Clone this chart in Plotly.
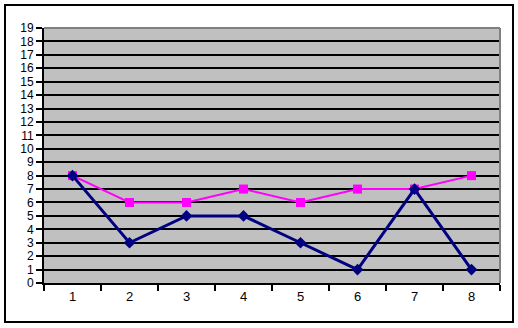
import plotly.graph_objects as go

categories = [1, 2, 3, 4, 5, 6, 7, 8]
series_a = [8, 3, 5, 5, 3, 1, 7, 1]
series_b = [8, 6, 6, 7, 6, 7, 7, 8]
y_ticks = list(range(0, 20))

W, H = 518, 328
L, R, T, B = 44, 18, 28, 45
pw, ph = W - L - R, H - T - B

def px_to_paper_x(px):
    return (px - L) / pw

def px_to_paper_y(py):
    return (H - B - py) / ph

fig = go.Figure()
fig.add_trace(go.Scatter(
    x=categories, y=series_b, mode="lines+markers",
    line=dict(color="#FF00FF", width=2),
    marker=dict(symbol="square", size=9, color="#FF00FF"),
    showlegend=False))
fig.add_trace(go.Scatter(
    x=categories, y=series_a, mode="lines+markers",
    line=dict(color="#000080", width=3),
    marker=dict(symbol="diamond", size=9, color="#000080"),
    showlegend=False))

fig.update_layout(
    width=W, height=H,
    margin=dict(l=L, r=R, t=T, b=B, pad=0),
    paper_bgcolor="white", plot_bgcolor="#C0C0C0",
    font=dict(family="Liberation Sans, Arial, sans-serif", size=12, color="black"),
    xaxis=dict(range=[0.5, 8.5], tickvals=categories, ticktext=[str(c) for c in categories],
               ticks="", showgrid=False, zeroline=False,
               showline=True, linecolor="black", linewidth=2,
               tickfont=dict(size=13),
               minor=dict(ticks="outside", tick0=0.5, dtick=1, ticklen=6, tickwidth=2,
                          tickcolor="black", showgrid=False),
               fixedrange=True),
    yaxis=dict(range=[0, 19], tickvals=y_ticks, ticks="outside", ticklen=6, tickwidth=2,
               tickcolor="black", showgrid=True, gridcolor="black", gridwidth=2,
               zeroline=False, showline=True, linecolor="black", linewidth=2,
               fixedrange=True),
    shapes=[
        dict(type="line", xref="paper", yref="paper", x0=0, x1=1, y0=1, y1=1,
             line=dict(color="#808080", width=2), layer="above"),
        dict(type="line", xref="paper", yref="paper", x0=1, x1=1, y0=0, y1=1,
             line=dict(color="#808080", width=2), layer="above"),
        dict(type="rect", xref="paper", yref="paper",
             x0=px_to_paper_x(5), x1=px_to_paper_x(513),
             y0=px_to_paper_y(322), y1=px_to_paper_y(5),
             line=dict(color="black", width=2), fillcolor="rgba(0,0,0,0)", layer="above"),
    ],
)

fig.write_html("out.html")
